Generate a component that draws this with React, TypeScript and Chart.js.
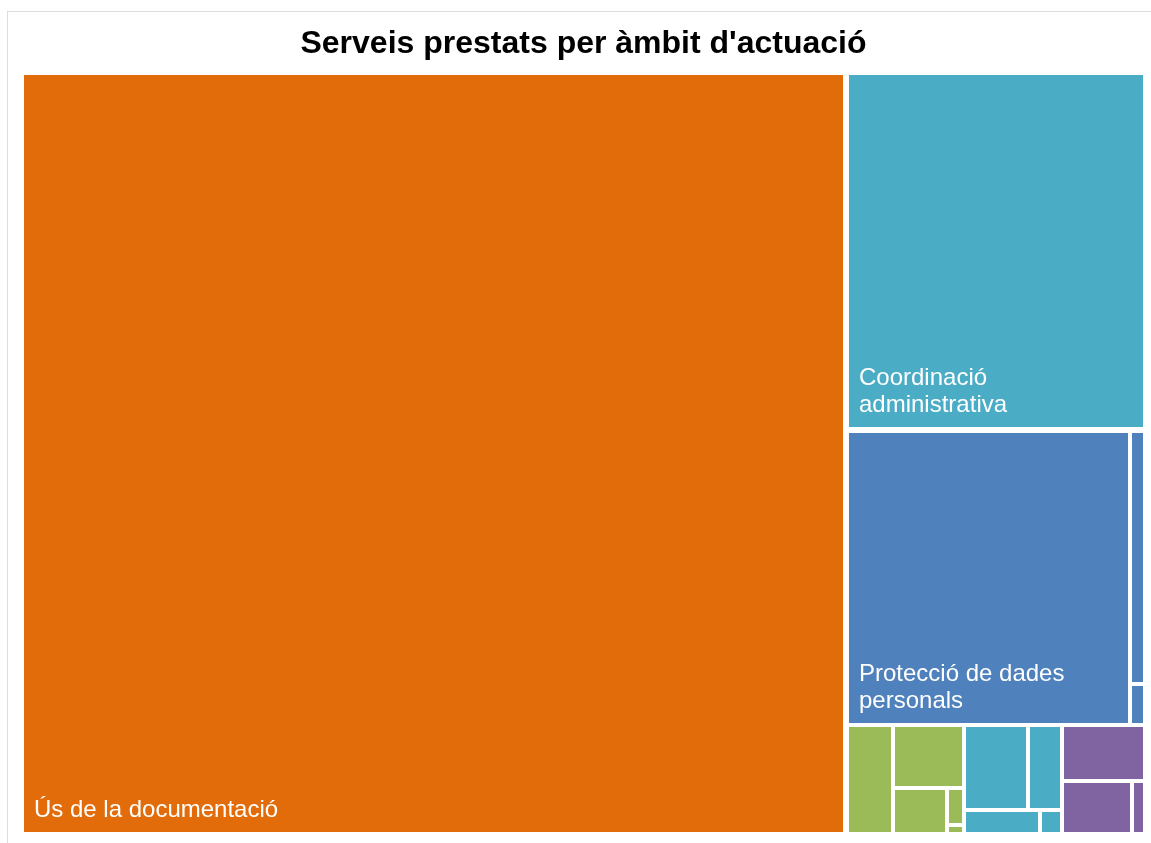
import React, { useEffect, useRef } from "react";
import { Chart, registerables } from "chart.js";

Chart.register(...registerables);

const TITLE = "Serveis prestats per àmbit d'actuació";

// Treemap leaves, in layout order: hierarchical path, value, visible label, ambit colour index
const leafPaths = [
  "0", "1",
  "2.0.0", "2.0.1", "2.0.2",
  "2.1.0", "2.1.1", "2.1.2", "2.1.3", "2.1.4",
  "2.2.0.0", "2.2.0.1", "2.2.1.0", "2.2.1.1",
  "2.3.0", "2.3.1", "2.3.2",
];
const leafValues = [
  12690, 2160,
  1697, 76, 12,
  102, 91, 51, 13, 3,
  112, 60, 37, 11,
  95, 76, 14,
];
const leafLabels = [
  "Ús de la documentació", "Coordinació administrativa",
  "Protecció de dades personals", "", "",
  "", "", "", "", "",
  "", "", "", "",
  "", "", "",
];
const leafAmbit = [0, 1, 2, 2, 2, 3, 3, 3, 3, 3, 4, 4, 4, 4, 5, 5, 5];
const ambitColors = ["#E36C0A", "#4BACC6", "#4F81BD", "#9BBB59", "#4BACC6", "#8064A2"];

type TNode = {
  key: string;
  depth: number;
  value: number;
  children: TNode[];
  leaf: number;
  x0: number; y0: number; x1: number; y1: number;
};

function buildTree(): TNode {
  const root: TNode = { key: "", depth: 0, value: 0, children: [], leaf: -1, x0: 0, y0: 0, x1: 0, y1: 0 };
  leafPaths.forEach((p, idx) => {
    const parts = p.split(".");
    let cur = root;
    parts.forEach((part, d) => {
      let child = cur.children.find((c) => c.key === part);
      if (!child) {
        child = { key: part, depth: d + 1, value: 0, children: [], leaf: -1, x0: 0, y0: 0, x1: 0, y1: 0 };
        cur.children.push(child);
      }
      cur = child;
    });
    cur.leaf = idx;
    cur.value = leafValues[idx];
  });
  const sum = (n: TNode): number => {
    if (n.children.length) n.value = n.children.reduce((s, c) => s + sum(c), 0);
    return n.value;
  };
  sum(root);
  return root;
}

// Balanced binary partition of a node's children inside a rectangle
function partitionChildren(nodes: TNode[], total: number, X0: number, Y0: number, X1: number, Y1: number) {
  const n = nodes.length;
  const sums: number[] = [0];
  for (let i = 0; i < n; i++) sums.push(sums[i] + nodes[i].value);
  const part = (i: number, j: number, value: number, x0: number, y0: number, x1: number, y1: number) => {
    if (i >= j - 1) {
      const c = nodes[i];
      c.x0 = x0; c.y0 = y0; c.x1 = x1; c.y1 = y1;
      return;
    }
    const valueOffset = sums[i];
    const valueTarget = value / 2 + valueOffset;
    let k = i + 1;
    let hi = j - 1;
    while (k < hi) {
      const mid = (k + hi) >>> 1;
      if (sums[mid] < valueTarget) k = mid + 1;
      else hi = mid;
    }
    if (valueTarget - sums[k - 1] < sums[k] - valueTarget && i + 1 < k) --k;
    const valueLeft = sums[k] - valueOffset;
    const valueRight = value - valueLeft;
    if (x1 - x0 > y1 - y0) {
      const xk = value ? (x0 * valueRight + x1 * valueLeft) / value : x1;
      part(i, k, valueLeft, x0, y0, xk, y1);
      part(k, j, valueRight, xk, y0, x1, y1);
    } else {
      const yk = value ? (y0 * valueRight + y1 * valueLeft) / value : y1;
      part(i, k, valueLeft, x0, y0, x1, yk);
      part(k, j, valueRight, x0, yk, x1, y1);
    }
  };
  if (n) part(0, n, total, X0, Y0, X1, Y1);
}

const padOuter = (n: TNode) => (n.depth === 0 ? 3 : 0);
const padInner = (n: TNode) => (n.depth === 0 ? 6 : 4);

function layout(node: TNode) {
  if (!node.children.length) return;
  const p = padInner(node) / 2;
  const o = padOuter(node) - p;
  partitionChildren(node.children, node.value, node.x0 + o, node.y0 + o, node.x1 - o, node.y1 - o);
  node.children.forEach((c) => {
    c.x0 += p; c.y0 += p; c.x1 -= p; c.y1 -= p;
    if (c.x1 < c.x0) c.x0 = c.x1 = (c.x0 + c.x1) / 2;
    if (c.y1 < c.y0) c.y0 = c.y1 = (c.y0 + c.y1) / 2;
    layout(c);
  });
}

function collectLeaves(n: TNode, out: TNode[]) {
  if (!n.children.length) out.push(n);
  else n.children.forEach((c) => collectLeaves(c, out));
  return out;
}

const LABEL_FONT = "24px Arial, 'Liberation Sans', sans-serif";

function wrap(ctx: CanvasRenderingContext2D, text: string, maxW: number): string[] {
  const words = text.split(" ");
  const lines: string[] = [];
  let line = "";
  words.forEach((w) => {
    const test = line ? line + " " + w : w;
    if (ctx.measureText(test).width > maxW && line) {
      lines.push(line);
      line = w;
    } else line = test;
  });
  if (line) lines.push(line);
  return lines;
}

const treemapPlugin = {
  id: "treemapCells",
  afterDatasetsDraw(chart: any) {
    const { ctx, chartArea, scales } = chart;
    const xs = scales.x;
    const ys = scales.y;
    const W = chartArea.right - chartArea.left;
    const H = chartArea.bottom - chartArea.top;
    const root = buildTree();
    root.x0 = 0; root.y0 = 0; root.x1 = W; root.y1 = H;
    layout(root);
    const leaves = collectLeaves(root, []);
    ctx.save();
    leaves.forEach((lf) => {
      const px0 = Math.round(xs.getPixelForValue(lf.x0 / W));
      const px1 = Math.round(xs.getPixelForValue(lf.x1 / W));
      const py0 = Math.round(ys.getPixelForValue(lf.y0 / H));
      const py1 = Math.round(ys.getPixelForValue(lf.y1 / H));
      if (px1 <= px0 || py1 <= py0) return;
      ctx.fillStyle = ambitColors[leafAmbit[lf.leaf]];
      ctx.fillRect(px0, py0, px1 - px0, py1 - py0);
      const label = leafLabels[lf.leaf];
      if (label) {
        ctx.font = LABEL_FONT;
        const maxW = px1 - px0 - 20;
        const lines = wrap(ctx, label, maxW);
        const lh = 27;
        const fits = lines.every((l) => ctx.measureText(l).width <= maxW) && lines.length * lh + 10 < py1 - py0;
        if (fits) {
          ctx.fillStyle = "#ffffff";
          ctx.textBaseline = "alphabetic";
          ctx.textAlign = "left";
          lines.forEach((l, i) => {
            const y = py1 - 15 - (lines.length - 1 - i) * lh;
            ctx.fillText(l, px0 + 10, y);
          });
        }
      }
    });
    ctx.restore();
  },
};

export default function App() {
  const ref = useRef<HTMLCanvasElement | null>(null);
  useEffect(() => {
    if (!ref.current) return;
    const chart = new Chart(ref.current, {
      type: "scatter",
      data: { datasets: [] },
      options: {
        animation: false,
        responsive: false,
        devicePixelRatio: 1,
        layout: { padding: { left: 21, right: 5, top: 0, bottom: 8 } },
        scales: {
          x: { type: "linear", min: 0, max: 1, display: false },
          y: { type: "linear", min: 0, max: 1, reverse: true, display: false },
        },
        plugins: {
          legend: { display: false },
          tooltip: { enabled: false },
          title: {
            display: true,
            text: TITLE,
            color: "#000000",
            font: { family: "Arial, 'Liberation Sans', sans-serif", size: 32, weight: "bold" },
            padding: { top: 25, bottom: 9 },
          },
        },
      },
      plugins: [treemapPlugin],
    } as any);
    return () => chart.destroy();
  }, []);
  return (
    <div>
      <div
        style={{
          position: "fixed",
          left: 7,
          top: 11,
          width: 1200,
          height: 900,
          border: "1px solid #dddddd",
          boxSizing: "border-box",
        }}
      />
      <canvas
        ref={ref}
        width={1151}
        height={843}
        style={{ position: "fixed", left: 0, top: 0, width: 1151, height: 843 }}
      />
    </div>
  );
}
